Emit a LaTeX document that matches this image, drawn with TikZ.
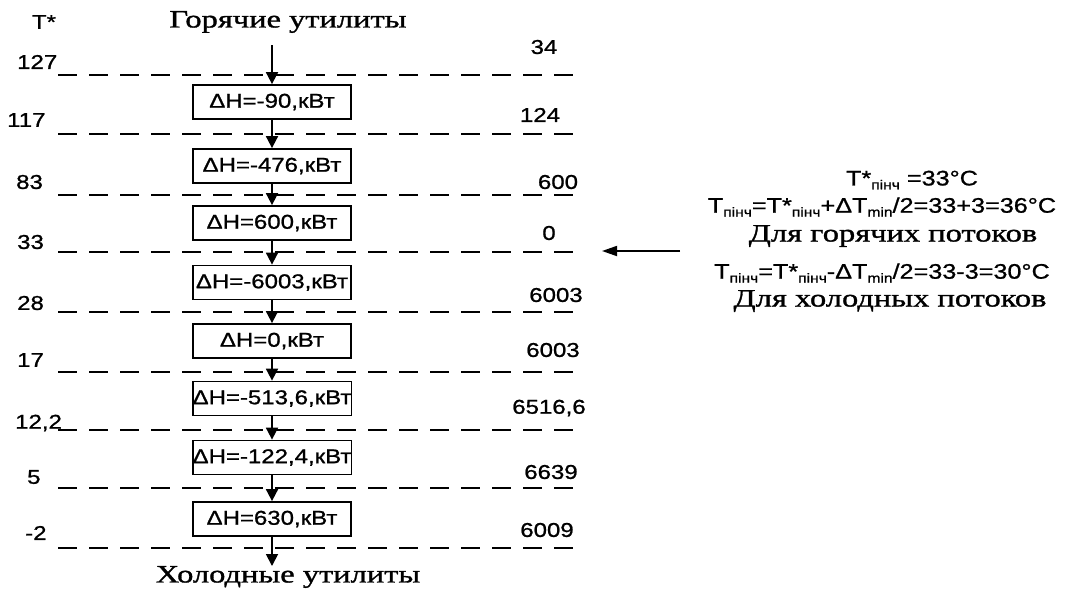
\documentclass[tikz,border=0pt]{standalone}
\usepackage{fontspec}
\setmainfont{Liberation Serif}
\newfontfamily\sfx[FakeStretch=1.2,FakeBold=1]{Liberation Sans}
\newfontfamily\rmx[FakeStretch=1.3,FakeBold=1.2]{Liberation Serif}
\usetikzlibrary{arrows.meta}
\newcommand\lowtxt[1]{\raisebox{-0.35ex}{\fontsize{13}{13}\selectfont #1}}
\begin{document}
\begin{tikzpicture}[x=1pt,y=-1pt,
  dline/.style={line width=2.2pt,dash pattern=on 19pt off 12pt},
  hbox/.style={draw,line width=1.8pt,minimum width=158pt,minimum height=34pt,inner sep=0pt,font=\sfx\fontsize{20}{20}\selectfont},
  arr/.style={line width=1.8pt,-{Triangle[width=12pt,length=12pt]}},
  parr/.style={line width=1.8pt,-{Triangle[width=10pt,length=15pt]}},
  num/.style={font=\sfx\fontsize{20}{20}\selectfont,inner sep=0pt},
  ttl/.style={font=\rmx\fontsize{25}{25}\selectfont,inner sep=0pt},
  frm/.style={font=\sfx\fontsize{21}{21}\selectfont,inner sep=0pt}]
\useasboundingbox (0,0) rectangle (1078,590);
% dashed temperature lines
\foreach \yy in {75,134,195,252,312,372,430,488,548}
  \draw[dline] (58,\yy) -- (582,\yy);
% headings
\node[ttl] (hot) at (288,22) {Горячие утилиты};
\node[ttl] (cold) at (288,577) {Холодные утилиты};
\node[num] (tst) at (44,22) {T*};
% left temperatures
\node[num,anchor=west] (t1) at (17,62) {127};
\node[num,anchor=west] (t2) at (7,120) {117};
\node[num,anchor=west] (t3) at (16,182) {83};
\node[num,anchor=west] (t4) at (17,242) {33};
\node[num,anchor=west] (t5) at (17,303) {28};
\node[num,anchor=west] (t6) at (17,360) {17};
\node[num,anchor=west] (t7) at (15,423) {12,2};
\node[num,anchor=west] (t8) at (27,477) {5};
\node[num,anchor=west] (t9) at (25,533) {-2};
% right cascade values
\node[num] (q0) at (544,47) {34};
\node[num] (q1) at (540,115) {124};
\node[num] (q2) at (558,182) {600};
\node[num] (q3) at (549,233) {0};
\node[num] (q4) at (556,295) {6003};
\node[num] (q5) at (553,350) {6003};
\node[num] (q6) at (549,408) {6516,6};
\node[num] (q7) at (551,472) {6639};
\node[num] (q8) at (547,530) {6009};
% boxes
\node[hbox] (b1) at (272,102) {ΔH=-90,кВт};
\node[hbox] (b2) at (272,166) {ΔH=-476,кВт};
\node[hbox] (b3) at (272,223) {ΔH=600,кВт};
\node[hbox] (b4) at (272,282.5) {ΔH=-6003,кВт};
\node[hbox] (b5) at (272,341) {ΔH=0,кВт};
\node[hbox] (b6) at (272,398.5) {ΔH=-513,6,кВт};
\node[hbox] (b7) at (272,457.5) {ΔH=-122,4,кВт};
\node[hbox] (b8) at (272,519) {ΔH=630,кВт};
\coordinate (top) at (272,45);
\coordinate (bot) at (272,566);
\draw[arr] (top) -- (b1.north);
\draw[arr] (b1.south) -- (b2.north);
\draw[arr] (b2.south) -- (b3.north);
\draw[arr] (b3.south) -- (b4.north);
\draw[arr] (b4.south) -- (b5.north);
\draw[arr] (b5.south) -- (b6.north);
\draw[arr] (b6.south) -- (b7.north);
\draw[arr] (b7.south) -- (b8.north);
\draw[arr] (b8.south) -- (bot);
% pinch annotation
\node[frm] (p1) at (912,180) {T*\lowtxt{пінч} =33°C};
\node[frm] (p2) at (882,207) {T\lowtxt{пінч}=T*\lowtxt{пінч}+ΔT\lowtxt{min}/2=33+3=36°C};
\node[ttl] (p3) at (893,236) {Для горячих потоков};
\node[frm] (p4) at (882,273) {T\lowtxt{пінч}=T*\lowtxt{пінч}-ΔT\lowtxt{min}/2=33-3=30°C};
\node[ttl] (p5) at (890,301) {Для холодных потоков};
\coordinate (pa) at (680,251);
\coordinate (pb) at (602,251);
\draw[parr] (pa) -- (pb);
\end{tikzpicture}
\end{document}
